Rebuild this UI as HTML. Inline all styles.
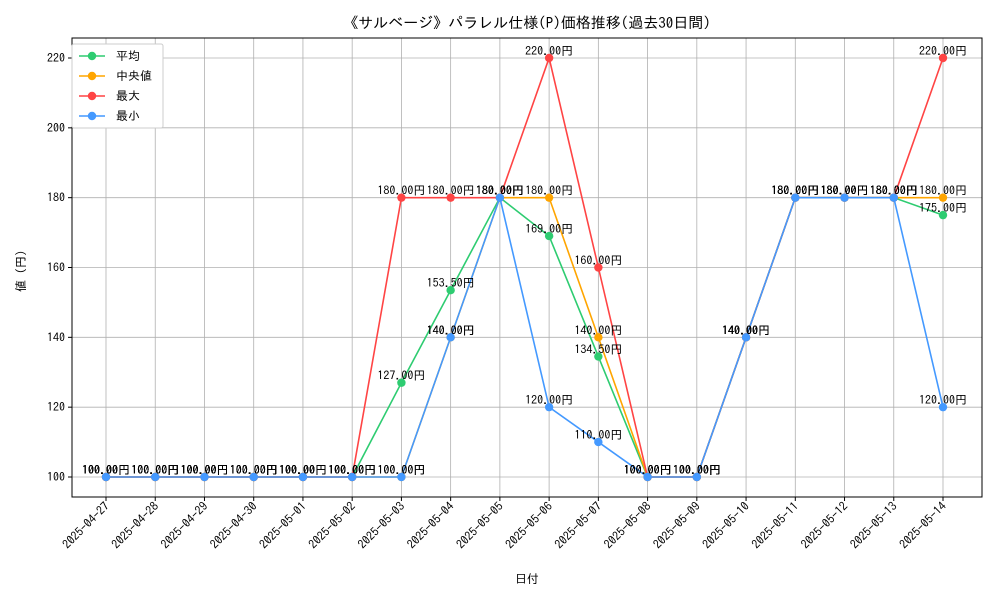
<!DOCTYPE html>
<html><head><meta charset="utf-8">
<style>
body{margin:0;background:#fff;}
svg text{font-family:"IPAGothic","Noto Sans CJK JP",monospace;}
</style></head>
<body>
<svg id="chart" width="1000" height="600" xmlns="http://www.w3.org/2000/svg">
<rect width="1000" height="600" fill="#fff"/>
<text x="527" y="28" font-size="15" text-anchor="middle">《サルベージ》パラレル仕様(P)価格推移(過去30日間)</text>
<g id="grid"></g>
<g id="series"></g>
<g id="labels"></g>
<rect x="72" y="38" width="910" height="459" fill="none" stroke="#000" stroke-width="1"/>
<g id="axes"></g>
<text x="527" y="583" font-size="12" text-anchor="middle">日付</text>
<text transform="translate(25,268) rotate(-90)" font-size="12" text-anchor="middle">値（円）</text>
<g id="legend"></g>
</svg>
<script>
const dates=["2025-04-27","2025-04-28","2025-04-29","2025-04-30","2025-05-01","2025-05-02","2025-05-03","2025-05-04","2025-05-05","2025-05-06","2025-05-07","2025-05-08","2025-05-09","2025-05-10","2025-05-11","2025-05-12","2025-05-13","2025-05-14"];
const avgVals=[100,100,100,100,100,100,127,153.5,180,169,134.5,100,100,140,180,180,180,175];
const medianVals=[100,100,100,100,100,100,100,140,180,180,140,100,100,140,180,180,180,180];
const maxVals=[100,100,100,100,100,100,180,180,180,220,160,100,100,140,180,180,180,220];
const minVals=[100,100,100,100,100,100,100,140,180,120,110,100,100,140,180,180,180,120];
const yTicks=[100,120,140,160,180,200,220];
const seriesNames=["平均","中央値","最大","最小"];
const colors=["#2ecc71","#ffa500","#ff4444","#4499ff"];
const NS="http://www.w3.org/2000/svg";
const X=i=>106+i*(943-106)/(dates.length-1);
const Y=v=>477-(v-100)*(477-58)/120;
function mk(t,a,p){const e=document.createElementNS(NS,t);for(const k in a)e.setAttribute(k,a[k]);p.appendChild(e);return e;}
const grid=document.getElementById('grid'),axes=document.getElementById('axes');
dates.forEach((d,i)=>{
 const g=mk('line',{x1:X(i),x2:X(i),y1:38,y2:497,stroke:'#b0b0b0','stroke-width':0.8},grid);
 
 mk('line',{x1:X(i),x2:X(i),y1:497,y2:501,stroke:'#000'},axes);
 const t=mk('text',{x:X(i)+4,y:507,'font-size':12,'text-anchor':'end',transform:`rotate(-45 ${X(i)+4} 507)`},axes);
 
 t.textContent=d;
});
yTicks.forEach(v=>{
 const g=mk('line',{x1:72,x2:982,y1:Y(v),y2:Y(v),stroke:'#b0b0b0','stroke-width':0.8},grid);
 
 mk('line',{x1:68,x2:72,y1:Y(v),y2:Y(v),stroke:'#000'},axes);
 const t=mk('text',{x:65,y:Y(v)+4,'font-size':12,'text-anchor':'end'},axes);
 
 t.textContent=v;
});
const all=[avgVals,medianVals,maxVals,minVals];
const sg=document.getElementById('series'),lg=document.getElementById('labels');
all.forEach((vals,s)=>{
 const pl=mk('polyline',{points:vals.map((v,i)=>X(i)+','+Y(v)).join(' '),fill:'none',stroke:colors[s],'stroke-width':1.6},sg);
 
 vals.forEach((v,i)=>{
  const c=mk('circle',{cx:X(i),cy:Y(v),r:4.2,fill:colors[s]},sg);
  
  const t=mk('text',{x:X(i),y:Y(v)-3,'font-size':12,'text-anchor':'middle'},lg);
  
  t.textContent=v.toFixed(2)+'円';
 });
});
const leg=document.getElementById('legend');
mk('rect',{x:72,y:44,width:91,height:84,fill:'#fff',stroke:'#ccc',rx:2},leg);
seriesNames.forEach((n,s)=>{
 const y=56+s*20;
 mk('line',{x1:79,x2:105,y1:y,y2:y,stroke:colors[s],'stroke-width':1.6},leg);
 mk('circle',{cx:92,cy:y,r:4.2,fill:colors[s]},leg);
 const t=mk('text',{x:116,y:y+4,'font-size':12},leg);
 
 t.textContent=n;
});
</script>
</body></html>
